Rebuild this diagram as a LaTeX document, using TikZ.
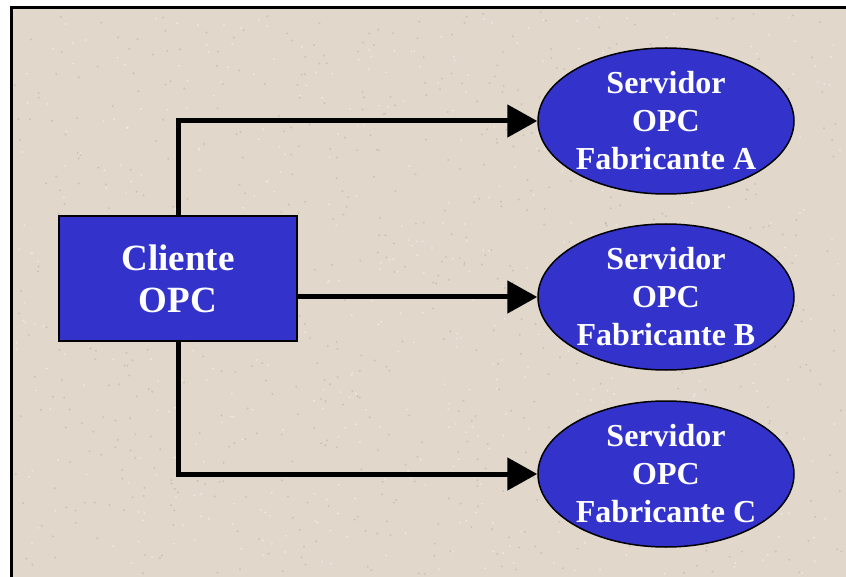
\documentclass[tikz,border=0pt]{standalone}
\usepackage{fontspec}
\setmainfont{Liberation Serif}
\usetikzlibrary{shapes.geometric,arrows.meta}
\definecolor{paper}{RGB}{225,216,203}
\definecolor{speck}{RGB}{185,172,155}
\definecolor{boxblue}{RGB}{51,51,204}
\tikzset{
  clientbox/.style={draw=black,line width=2pt,fill=boxblue,minimum width=238pt,minimum height=125pt,inner sep=0pt,
    text=white,font=\bfseries\fontsize{37}{42}\selectfont,align=center},
  serverell/.style={ellipse,draw=black,line width=1.5pt,fill=boxblue,minimum width=256pt,minimum height=146pt,inner sep=0pt,
    text=white,font=\bfseries\fontsize{32}{38}\selectfont,align=center},
  link/.style={line width=5pt,-{Triangle[length=30pt,width=32pt]}}
}
\begin{document}
\begin{tikzpicture}[x=1pt,y=-1pt]
\useasboundingbox (0,0) rectangle (846,577);
\fill[white] (0,0) rectangle (846,577);
\fill[paper] (11,8) rectangle (846,577);
\pgfmathsetseed{7}
\foreach \i in {1,...,700}{
  \pgfmathsetmacro{\px}{15+rnd*828}
  \pgfmathsetmacro{\py}{12+rnd*562}
  \fill[speck,opacity=0.5] (\px,\py) circle (1.1pt);
}
\foreach \i in {1,...,500}{
  \pgfmathsetmacro{\px}{15+rnd*828}
  \pgfmathsetmacro{\py}{12+rnd*562}
  \fill[white,opacity=0.4] (\px,\py) circle (1.1pt);
}
\draw[line width=3pt] (11,577) -- (11,8) -- (846,8);
\node[clientbox] (cli) at (178,278.5) {Cliente\\OPC};
\node[serverell] (A) at (666,121) {Servidor\\OPC\\Fabricante A};
\node[serverell] (B) at (666,297) {Servidor\\OPC\\Fabricante B};
\node[serverell] (C) at (666,474) {Servidor\\OPC\\Fabricante C};
\draw[link] (cli.north) -- (cli.north |- A.west) -- (A.west);
\draw[link] (cli.east |- B.west) -- (B.west);
\draw[link] (cli.south) -- (cli.south |- C.west) -- (C.west);
\end{tikzpicture}
\end{document}
